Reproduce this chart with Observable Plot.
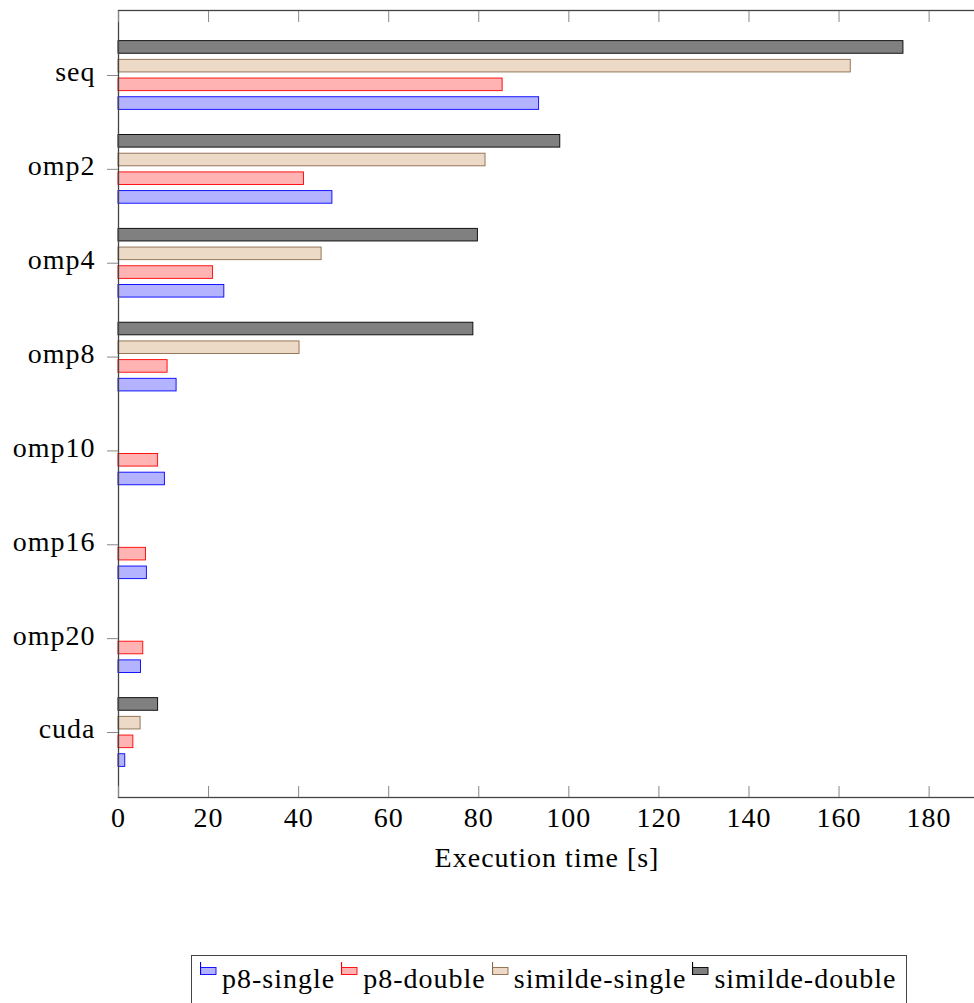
<!DOCTYPE html>
<html>
<head>
<meta charset="utf-8">
<script src="https://cdn.jsdelivr.net/npm/d3@7"></script>
<script src="https://cdn.jsdelivr.net/npm/@observablehq/plot@0.6"></script>
<style>
  html, body { margin: 0; padding: 0; background: #fff; overflow: hidden; }
  #chart { position: relative; width: 974px; height: 1003px; overflow: hidden; }
  #chart svg text { letter-spacing: 1px; }
  .legend {
    position: absolute; left: 191px; top: 955px; width: 716px; height: 70px;
    border: 1.3px solid #444; box-sizing: border-box;
    display: flex; align-items: flex-start; padding: 9px 0 0 8px;
    font-family: "Liberation Serif", serif; font-size: 28px; line-height: 28px;
    letter-spacing: 1px; color: #000;
  }
  .legend .item { display: flex; align-items: flex-start; margin-right: 6px; }
  .legend svg { margin-top: -3px; margin-right: 5px; flex: none; }
</style>
</head>
<body>
<div id="chart"></div>
<script>
// Execution time per configuration, in seconds
const categories = ["seq", "omp2", "omp4", "omp8", "omp10", "omp16", "omp20", "cuda"];
const series = ["p8-single", "p8-double", "similde-single", "similde-double"];

const p8Single      = [93.4, 47.5, 23.5, 12.9, 10.3, 6.3, 5.0, 1.5];
const p8Double      = [85.3, 41.2, 21.0, 10.9, 8.8, 6.1, 5.5, 3.3];
const simildeSingle = [162.6, 81.5, 45.1, 40.2, null, null, null, 4.9];
const simildeDouble = [174.3, 98.1, 79.8, 78.8, null, null, null, 8.8];

const xTicks = [0, 20, 40, 60, 80, 100, 120, 140, 160, 180];

const fills   = ["#b3b3ff", "#ffb3b3", "#ecd9c6", "#808080"];
const strokes = ["#0000ff", "#ff0000", "#8b6b4b", "#000000"];

const values = [p8Single, p8Double, simildeSingle, simildeDouble];
const strokeOf = new Map(series.map((s, i) => [s, strokes[i]]));

const rows = series.flatMap((s, i) =>
  categories.map((c, j) => ({category: c, series: s, time: values[i][j]}))
).filter(d => d.time != null);

const font = "Liberation Serif";

// layout
const width = 980, height = 940;
const marginTop = 10, marginBottom = 143, marginLeft = 118, marginRight = 5;
const fyPadInner = 0.268, fyPadOuter = 0.3265;
// distance between the outermost facet bands and the plot frame
const fyStep = (height - marginTop - marginBottom) / (categories.length - fyPadInner + 2 * fyPadOuter);
const frameGap = fyStep * fyPadOuter;

const plot = Plot.plot({
  width, height, marginTop, marginBottom, marginLeft, marginRight,
  style: {fontFamily: font, fontSize: "28px", color: "#000", background: "#fff", overflow: "visible", maxWidth: "none"},
  x: {domain: [0, 190.3]},
  fy: {domain: categories, paddingInner: fyPadInner, paddingOuter: fyPadOuter, round: false, axis: null, label: null},
  y: {domain: [...series].reverse(), paddingInner: 0.326, paddingOuter: 0, round: false, axis: null},
  color: {domain: series, range: fills},
  marks: [
    Plot.barX(rows, {
      x: "time",
      y: "series",
      fy: "category",
      fill: "series",
      stroke: {value: d => strokeOf.get(d.series), scale: null},
      strokeWidth: 0.9
    }),
    Plot.frame({facet: "super", stroke: "#444", strokeWidth: 1.3, insetTop: -frameGap, insetBottom: -frameGap}),
    // category ticks and labels
    Plot.axisFy({anchor: "left", tickSize: 11, tickFormat: () => "", label: null, stroke: "#888"}),
    Plot.axisFy({anchor: "left", tickSize: 0, tickPadding: 23, dy: -3, label: null, fill: "#000", fontSize: 28}),
    // bottom tick labels and title
    Plot.axisX({anchor: "bottom", ticks: xTicks, tickSize: 0, tickPadding: 10, dy: frameGap,
      fontSize: 28, label: "Execution time [s]", labelAnchor: "center", labelOffset: 69 + frameGap, labelArrow: "none"}),
    // inward tick marks, bottom and top
    Plot.axisX({anchor: "bottom", ticks: xTicks, tickSize: 11, dy: frameGap - 11,
      tickFormat: () => "", label: null, stroke: "#888"}),
    Plot.axisX({anchor: "top", ticks: xTicks, tickSize: 11, dy: 11 - frameGap,
      tickFormat: () => "", label: null, stroke: "#888"})
  ]
});

const chart = document.getElementById("chart");
chart.appendChild(plot);

// legend below the plot
const legend = document.createElement("div");
legend.className = "legend";
series.forEach((s, i) => {
  const item = document.createElement("div");
  item.className = "item";
  const icon = d3.create("svg").attr("width", 17).attr("height", 14);
  icon.append("rect").attr("x", 0.5).attr("y", 5.5).attr("width", 15.5).attr("height", 7)
    .attr("fill", fills[i]).attr("stroke", strokes[i]).attr("stroke-width", 0.9);
  icon.append("line").attr("x1", 0.5).attr("x2", 0.5).attr("y1", 0).attr("y2", 12.5)
    .attr("stroke", strokes[i]).attr("stroke-width", 1.2);
  item.appendChild(icon.node());
  const label = document.createElement("span");
  label.textContent = s;
  item.appendChild(label);
  legend.appendChild(item);
});
chart.appendChild(legend);
</script>
</body>
</html>
